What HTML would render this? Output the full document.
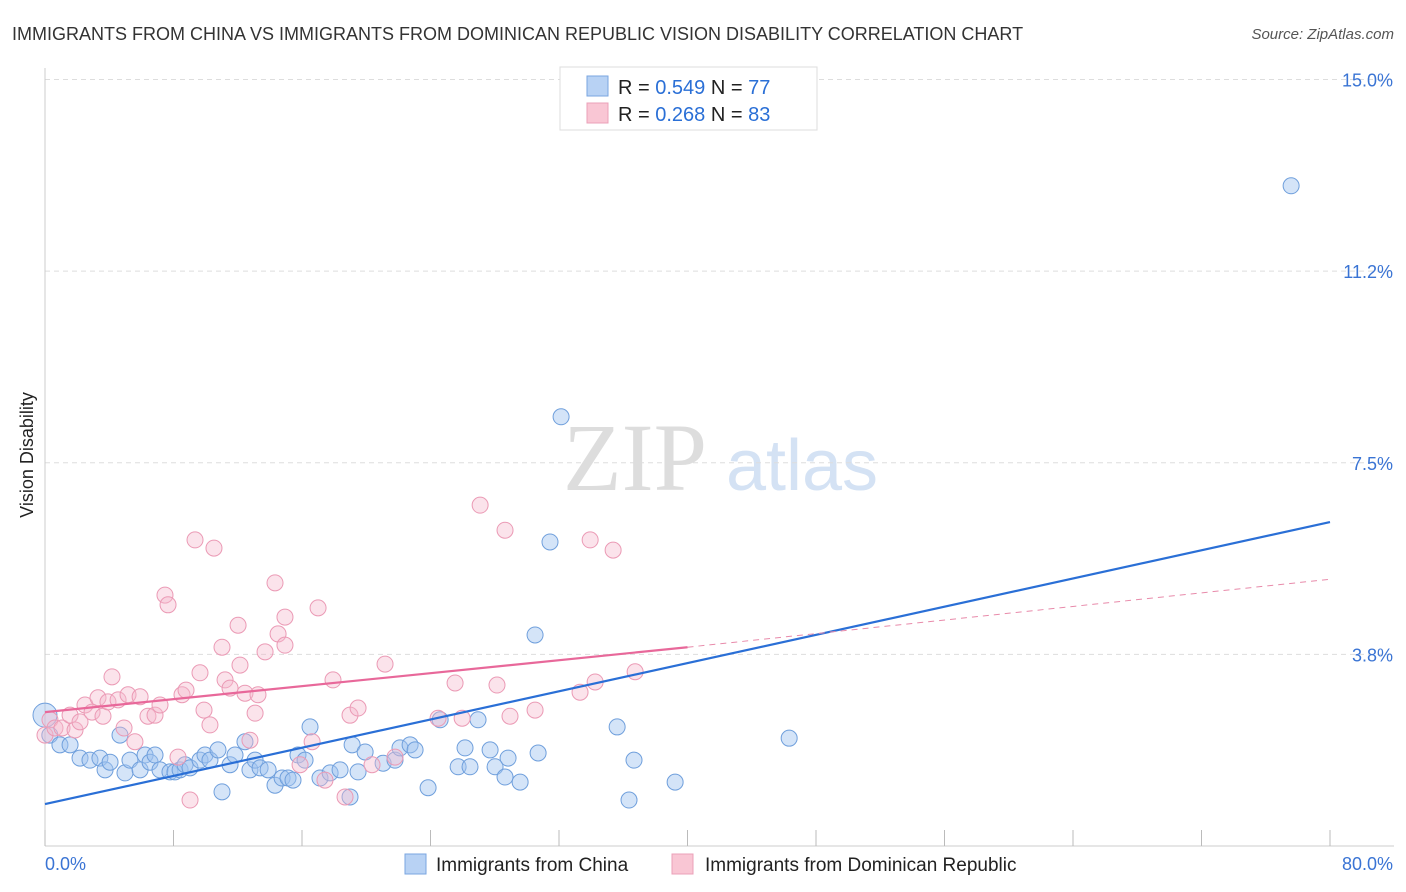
<!DOCTYPE html>
<html><head><meta charset="utf-8"><style>
body{margin:0;background:#fff;font-family:"Liberation Sans",sans-serif;}
svg{display:block}
</style></head><body>
<svg id="chart" width="1406" height="892" xmlns="http://www.w3.org/2000/svg">
<text x="12" y="40" font-size="18" fill="#333">IMMIGRANTS FROM CHINA VS IMMIGRANTS FROM DOMINICAN REPUBLIC VISION DISABILITY CORRELATION CHART</text>
<text x="1394" y="39" font-size="15" fill="#555" font-style="italic" text-anchor="end">Source: ZipAtlas.com</text>
<text x="33" y="455" font-size="18" fill="#222" transform="rotate(-90 33 455)" text-anchor="middle">Vision Disability</text>
<g>
<text x="635" y="490" font-size="96" font-family="Liberation Serif,serif" fill="#ddd" text-anchor="middle">ZIP</text>
<text x="802" y="490" font-size="72" fill="#d4e2f4" text-anchor="middle">atlas</text>
</g>
<g id="grid"></g><g id="axes"></g><g id="marks"></g>
<g>
<rect x="560" y="67" width="257" height="63" fill="#fff" stroke="#ddd"/>
<rect x="587" y="76" width="21" height="20" fill="#b8d2f4" stroke="#7aa6e0"/>
<rect x="587" y="103" width="21" height="20" fill="#f9c6d4" stroke="#eba0b8"/>
<text x="618" y="94" font-size="20" fill="#222">R = <tspan fill="#2a6fd6">0.549</tspan>   N = <tspan fill="#2a6fd6">77</tspan></text>
<text x="618" y="121" font-size="20" fill="#222">R = <tspan fill="#2a6fd6">0.268</tspan>   N = <tspan fill="#2a6fd6">83</tspan></text>
</g>
<g>
<rect x="405" y="854" width="21" height="20" fill="#b8d2f4" stroke="#7aa6e0"/>
<text x="436" y="871" font-size="19" fill="#222">Immigrants from China</text>
<rect x="672" y="854" width="21" height="20" fill="#f9c6d4" stroke="#eba0b8"/>
<text x="705" y="871" font-size="19" fill="#222">Immigrants from Dominican Republic</text>
</g>
</svg>
<script>
const blueX=[0,0.3,0.93,1.56,2.18,2.8,3.42,3.74,4.05,4.67,4.98,5.29,5.92,6.23,6.54,6.85,7.16,7.78,8.09,8.41,8.72,9.03,9.65,9.96,10.27,10.77,11.02,11.52,11.83,12.45,12.76,13.08,13.39,13.89,14.32,14.76,15.13,15.44,15.75,16.19,16.5,17.12,17.75,18.37,18.99,19.12,19.49,19.93,21.05,21.79,22.1,22.73,23.04,23.85,24.6,25.72,26.15,26.46,26.96,27.71,28.02,28.64,28.83,29.58,30.7,30.51,31.44,32.13,35.62,36.36,36.67,39.23,46.33,77.58];
const blueY=[2.56,2.17,1.98,1.98,1.72,1.68,1.72,1.49,1.64,2.17,1.43,1.68,1.49,1.78,1.64,1.78,1.49,1.45,1.45,1.49,1.59,1.53,1.68,1.78,1.68,1.88,1.06,1.59,1.78,2.04,1.49,1.68,1.53,1.49,1.19,1.33,1.33,1.29,1.78,1.68,2.33,1.33,1.43,1.49,0.96,1.98,1.45,1.84,1.62,1.68,1.92,1.98,1.88,1.14,2.47,1.55,1.92,1.55,2.47,1.88,1.55,1.35,1.72,1.25,1.82,4.13,5.95,8.4,2.33,0.9,1.68,1.25,2.11,12.92];
const pinkX=[0,0.31,0.62,1.06,1.56,1.87,2.18,2.49,2.93,3.3,3.61,3.92,4.17,4.55,4.92,5.17,5.6,5.92,6.41,6.85,7.16,7.47,7.66,8.28,8.53,8.78,9.03,9.34,9.65,9.9,10.27,10.52,11.02,11.21,11.52,12.02,12.14,12.45,12.76,13.08,13.26,13.7,14.32,14.51,14.94,14.94,15.88,16.63,17.0,17.43,17.93,18.68,18.99,19.49,20.36,21.17,21.79,24.47,25.53,25.97,27.09,28.14,28.64,28.95,30.51,33.31,33.94,34.25,35.37,36.74];
const pinkY=[2.17,2.47,2.31,2.31,2.56,2.27,2.43,2.76,2.62,2.9,2.54,2.82,3.31,2.86,2.31,2.96,2.04,2.92,2.54,2.56,2.76,4.91,4.72,1.74,2.96,3.05,0.9,5.99,3.39,2.66,2.37,5.83,3.89,3.25,3.09,4.32,3.54,2.99,2.07,2.6,2.96,3.8,5.15,4.15,4.48,3.93,1.59,2.04,4.66,1.29,3.25,0.96,2.56,2.7,1.59,3.56,1.74,2.5,3.19,2.5,6.67,3.15,6.18,2.54,2.66,3.01,5.99,3.21,5.79,3.41];
const blueLine=[[0,0.82],[80,6.34]];
const pinkLine=[[0,2.62],[40,3.89]];
const pinkDash=[[40,3.89],[80,5.22]];
const yTicks=[3.75,7.5,11.25,15];
const yTickLabels=["3.8%","7.5%","11.2%","15.0%"];
const xTicks=[0,8,16,24,32,40,48,56,64,72,80];
const NS="http://www.w3.org/2000/svg";
const sx=v=>45+v*(1330-45)/80;
const sy=v=>846-v*51.1;
function mk(parent,tag,attrs){const e=document.createElementNS(NS,tag);for(const k in attrs)e.setAttribute(k,attrs[k]);document.getElementById(parent).appendChild(e);return e;}
yTicks.forEach((t,i)=>{
  const l=mk('grid','line',{x1:45,x2:1394,y1:sy(t),y2:sy(t),stroke:'#ddd','stroke-dasharray':'5,4'});
  
  
  const tx=mk('axes','text',{x:1393,y:sy(t)+7,'font-size':18,fill:'#3a74d4','text-anchor':'end'});
  tx.textContent=yTickLabels[i];
  
  
});
const ax=mk('axes','line',{x1:45,x2:1394,y1:846,y2:846,stroke:'#ccc'});


const ay=mk('axes','line',{x1:45,x2:45,y1:68,y2:846,stroke:'#ccc'});


xTicks.forEach(t=>{
  const l=mk('axes','line',{x1:sx(t),x2:sx(t),y1:830,y2:846,stroke:'#bbb'});
  
  
});
const x0=mk('axes','text',{x:45,y:870,'font-size':18,fill:'#3a74d4'});x0.textContent='0.0%';


const x1=mk('axes','text',{x:1393,y:870,'font-size':18,fill:'#3a74d4','text-anchor':'end'});x1.textContent='80.0%';


blueX.forEach((x,i)=>{
  const c=mk('marks','circle',{cx:sx(x),cy:sy(blueY[i]),r:i===0?12:8,fill:'rgba(160,196,240,0.45)',stroke:'#6f9fdc','stroke-width':1});
  
  
});
pinkX.forEach((x,i)=>{
  const c=mk('marks','circle',{cx:sx(x),cy:sy(pinkY[i]),r:8,fill:'rgba(246,184,204,0.4)',stroke:'#eb9ab5','stroke-width':1});
  
  
});
const bl=mk('marks','line',{x1:sx(blueLine[0][0]),y1:sy(blueLine[0][1]),x2:sx(blueLine[1][0]),y2:sy(blueLine[1][1]),stroke:'#2a6fd6','stroke-width':2.2});


const pl=mk('marks','line',{x1:sx(pinkLine[0][0]),y1:sy(pinkLine[0][1]),x2:sx(pinkLine[1][0]),y2:sy(pinkLine[1][1]),stroke:'#e8689a','stroke-width':2.2});


const pd=mk('marks','line',{x1:sx(pinkDash[0][0]),y1:sy(pinkDash[0][1]),x2:sx(pinkDash[1][0]),y2:sy(pinkDash[1][1]),stroke:'#e88aaa','stroke-width':1,'stroke-dasharray':'6,5'});


</script>
</body></html>
